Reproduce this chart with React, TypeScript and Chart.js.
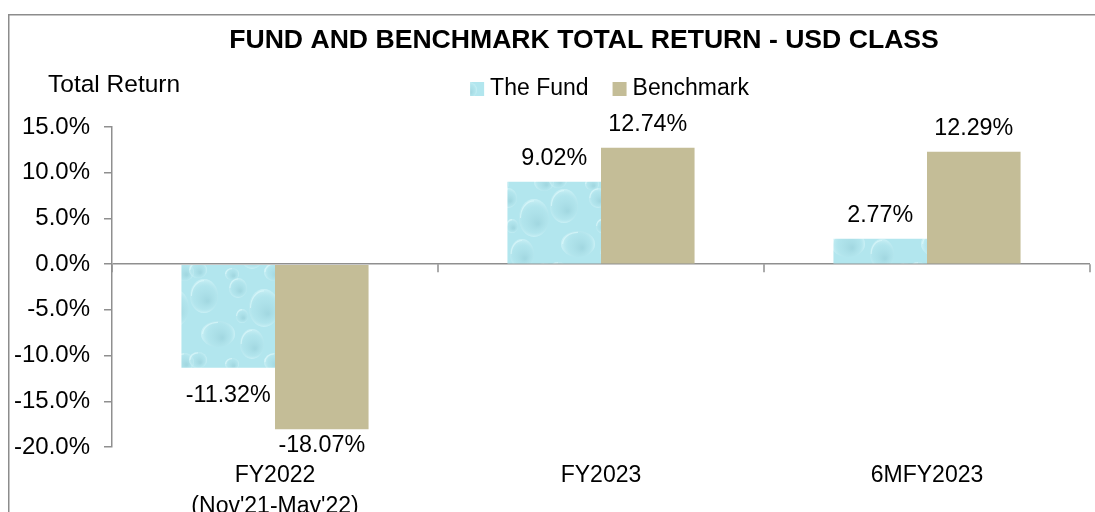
import React, { useEffect, useRef } from "react";
import { Chart, registerables } from "chart.js";

Chart.register(...registerables);

// ---- data ----
const categories: (string | string[])[] = [["FY2022", "(Nov'21-May'22)"], "FY2023", "6MFY2023"];
const fundReturns = [-11.32, 9.02, 2.77];
const benchmarkReturns = [-18.07, 12.74, 12.29];
const seriesNames = ["The Fund", "Benchmark"];
const chartTitle = "FUND AND BENCHMARK TOTAL RETURN - USD CLASS";
const yAxisLabel = "Total Return";
const yMin = -20;
const yMax = 15;
const yStep = 5;

const FONT = '"Liberation Sans", Arial, Helvetica, sans-serif';
const AXIS_GREY = "#8f8f8f";
const BENCH_COLOR = "#c4bd97";

function makeWaterPattern(ctx: CanvasRenderingContext2D): CanvasPattern | string {
  const S = 90;
  const c = document.createElement("canvas");
  c.width = S;
  c.height = S;
  const g = c.getContext("2d");
  if (!g) return "#aadfe8";
  g.fillStyle = "#b2e6ee";
  g.fillRect(0, 0, S, S);
  const drops = [
    [16, 18, 14, 17], [50, 10, 9, 10], [76, 30, 15, 19], [30, 56, 17, 13],
    [64, 66, 12, 15], [86, 84, 10, 9], [10, 82, 9, 8], [44, 86, 7, 6], [54, 38, 6, 7],
  ];
  const paint = (cx: number, cy: number, rx: number, ry: number) => {
    const rg = g.createRadialGradient(cx + rx * 0.25, cy + ry * 0.3, 1, cx, cy, Math.max(rx, ry));
    rg.addColorStop(0, "rgba(150,205,215,0.55)");
    rg.addColorStop(0.65, "rgba(175,225,233,0.35)");
    rg.addColorStop(1, "rgba(215,246,250,0.7)");
    g.fillStyle = rg;
    g.beginPath();
    g.ellipse(cx, cy, rx, ry, 0, 0, Math.PI * 2);
    g.fill();
    g.strokeStyle = "rgba(225,250,252,0.6)";
    g.lineWidth = 1.2;
    g.beginPath();
    g.ellipse(cx, cy, rx * 0.9, ry * 0.9, 0, Math.PI * 1.0, Math.PI * 1.5);
    g.stroke();
  };
  drops.forEach(([cx, cy, rx, ry]) => {
    for (const dx of [-S, 0, S]) {
      for (const dy of [-S, 0, S]) {
        paint(cx + dx, cy + dy, rx, ry);
      }
    }
  });
  return ctx.createPattern(c, "repeat") || "#aadfe8";
}

const decorPlugin = {
  id: "decor",
  afterDraw(chart: any) {
    const ctx: CanvasRenderingContext2D = chart.ctx;
    const area = chart.chartArea;
    const xs = chart.scales.x;
    const ys = chart.scales.y;
    ctx.save();

    // outer frame (top and left visible)
    ctx.strokeStyle = "#8c8c8c";
    ctx.lineWidth = 1.5;
    ctx.beginPath();
    ctx.moveTo(0.75, chart.height);
    ctx.lineTo(0.75, 6.75);
    ctx.lineTo(chart.width, 6.75);
    ctx.stroke();

    // title
    ctx.fillStyle = "#000";
    ctx.textBaseline = "alphabetic";
    ctx.textAlign = "center";
    ctx.font = `bold 26.6px ${FONT}`;
    ctx.fillText(chartTitle, 576, 40);

    // y axis label
    ctx.font = `24.5px ${FONT}`;
    ctx.textAlign = "left";
    ctx.fillText(yAxisLabel, 40, 84);

    // legend
    ctx.font = `23px ${FONT}`;
    const items = chart.data.datasets.map((ds: any) => ({
      label: ds.label,
      color: ds.backgroundColor,
      w: ctx.measureText(ds.label).width,
    }));
    const sw = 14, gapS = 6, gapI = 24;
    const total = items.reduce((s: number, it: any) => s + sw + gapS + it.w, 0) + gapI * (items.length - 1);
    let lx = 601.5 - total / 2;
    items.forEach((it: any) => {
      ctx.fillStyle = it.color;
      ctx.fillRect(lx, 74, sw, sw);
      ctx.fillStyle = "#000";
      ctx.textAlign = "left";
      ctx.fillText(it.label, lx + sw + gapS, 87);
      lx += sw + gapS + it.w + gapI;
    });

    // category boundary tick marks on the zero line
    const y0 = ys.getPixelForValue(0);
    ctx.strokeStyle = AXIS_GREY;
    ctx.lineWidth = 1.5;
    for (let i = 0; i <= categories.length; i++) {
      const px = xs.getPixelForValue(i - 0.5);
      ctx.beginPath();
      ctx.moveTo(px, y0);
      ctx.lineTo(px, y0 + 8);
      ctx.stroke();
    }

    // data labels
    ctx.fillStyle = "#000";
    ctx.font = `23.3px ${FONT}`;
    ctx.textAlign = "center";
    ctx.textBaseline = "alphabetic";
    chart.data.datasets.forEach((ds: any, di: number) => {
      const meta = chart.getDatasetMeta(di);
      meta.data.forEach((bar: any, i: number) => {
        const v = ds.data[i] as number;
        const txt = v.toFixed(2) + "%";
        if (v >= 0) {
          ctx.fillText(txt, bar.x, bar.y - 17);
        } else {
          const base = Math.min(bar.y + 34, area.bottom + 5);
          ctx.fillText(txt, bar.x, base);
        }
      });
    });
    ctx.restore();
  },
};

export default function App() {
  const canvasRef = useRef<HTMLCanvasElement | null>(null);

  useEffect(() => {
    const canvas = canvasRef.current;
    if (!canvas) return;
    const ctx = canvas.getContext("2d");
    if (!ctx) return;
    const fundFill = makeWaterPattern(ctx);

    const chart = new Chart(ctx, {
      type: "bar",
      data: {
        labels: categories,
        datasets: [
          {
            label: seriesNames[0],
            data: fundReturns,
            backgroundColor: fundFill as any,
            borderWidth: 0,
            categoryPercentage: 0.574,
            barPercentage: 1,
          },
          {
            label: seriesNames[1],
            data: benchmarkReturns,
            backgroundColor: BENCH_COLOR,
            borderWidth: 0,
            categoryPercentage: 0.574,
            barPercentage: 1,
          },
        ],
      },
      options: {
        responsive: false,
        animation: false,
        devicePixelRatio: 1,
        layout: { padding: { top: 119, left: 0, right: 5, bottom: 0 } },
        plugins: {
          legend: { display: false },
          title: { display: false },
          tooltip: { enabled: false },
        },
        scales: {
          x: {
            grid: { display: false, drawTicks: false, tickLength: 0 },
            border: { display: false },
            ticks: {
              color: "#000",
              padding: 13,
              maxRotation: 0,
              autoSkip: false,
              font: { family: FONT, size: 23, lineHeight: 1.35 },
            },
            afterFit(scale: any) {
              scale.height = 65;
            },
          },
          y: {
            min: yMin,
            max: yMax,
            ticks: {
              stepSize: yStep,
              color: "#000",
              padding: 14,
              font: { family: FONT, size: 24 },
              callback: (v: any) => Number(v).toFixed(1) + "%",
            },
            grid: {
              drawTicks: true,
              tickLength: 8,
              tickColor: AXIS_GREY,
              tickWidth: 1.5,
              lineWidth: 1.5,
              color: (c: any) => (c.tick && c.tick.value === 0 ? AXIS_GREY : "rgba(0,0,0,0)"),
            },
            border: { display: true, color: AXIS_GREY, width: 1.5 },
            afterFit(scale: any) {
              scale.width = 104;
            },
          },
        },
      },
      plugins: [decorPlugin],
    });

    return () => {
      chart.destroy();
    };
  }, []);

  return (
    <div
      style={{
        position: "fixed",
        left: 8,
        top: 8,
        width: 1087,
        height: 504,
        overflow: "hidden",
        background: "#fff",
      }}
    >
      <canvas ref={canvasRef} width={1087} height={504} style={{ display: "block" }} />
    </div>
  );
}
